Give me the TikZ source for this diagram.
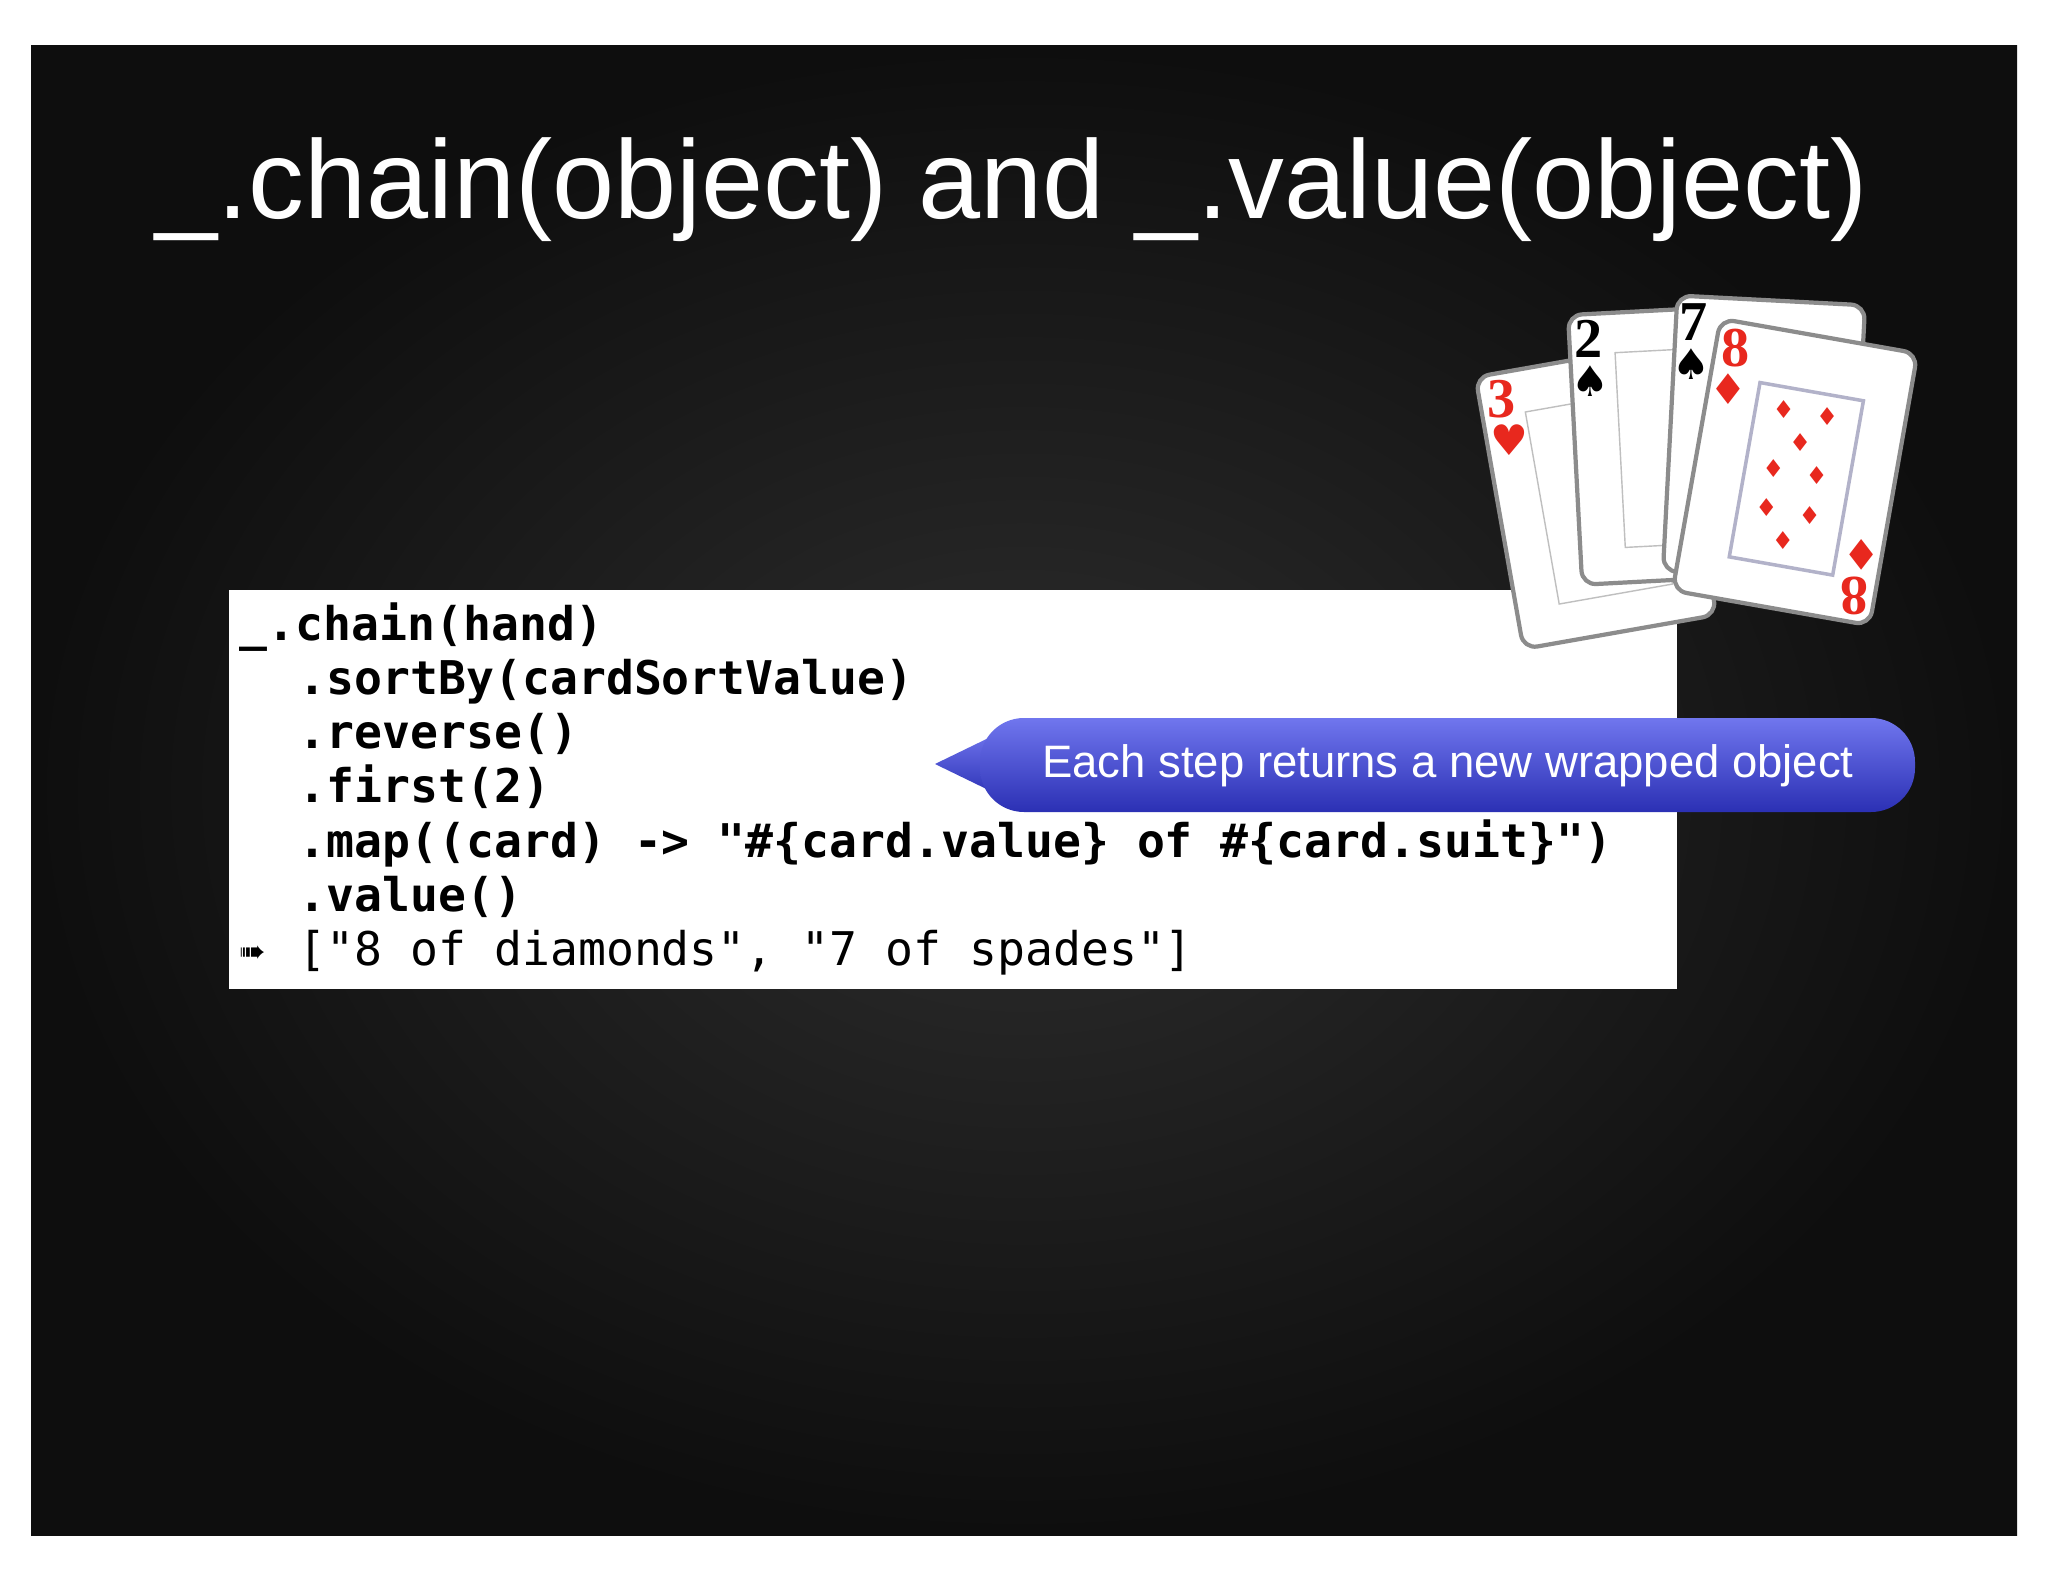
\documentclass[tikz,border=0pt]{standalone}
\usepackage{fontspec}
\setmainfont{Liberation Sans}
\newfontfamily\codefont{DejaVu Sans Mono}
\newfontfamily\symfont{DejaVu Sans}
\usetikzlibrary{shapes.geometric}
\definecolor{bgin}{HTML}{2E2E2E}
\definecolor{bgout}{HTML}{0E0E0E}
\definecolor{cbtop}{HTML}{7076EE}
\definecolor{cbbot}{HTML}{2B30B4}
\definecolor{cardred}{HTML}{E8281E}
\tikzset{
  codeline/.style={anchor=base west,inner sep=0pt,font=\codefont\bfseries\fontsize{13.2}{15}\selectfont},
  card/.style={fill=white,draw=black!45,line width=1.2pt,rounded corners=4pt},
  rank/.style={font=\fontspec{Liberation Serif}\bfseries\fontsize{16}{16}\selectfont,inner sep=0pt},
  suit/.style={font=\symfont\fontsize{12}{12}\selectfont,inner sep=0pt}
}
\begin{document}
\begin{tikzpicture}[x=0.01cm,y=-0.01cm]
\useasboundingbox (0,0) rectangle (2048,1582);
\fill[white] (0,0) rectangle (2048,1582);
\shade[inner color=bgin,outer color=bgout] (31,46) rectangle (2017,1535);
% title
\node[text=white,inner sep=0pt,anchor=center] (title) at (1012,190) {\resizebox{17.11cm}{!}{\_.chain(object) and \_.value(object)}};
% code box
\fill[white] (229,590) rectangle (1677,989);
\node[codeline] (l1) at (239,640) {\_.chain(hand)};
\node[codeline] (l2) at (298,694) {.sortBy(cardSortValue)};
\node[codeline] (l3) at (298,748) {.reverse()};
\node[codeline] (l4) at (298,802) {.first(2)};
\node[codeline] (l5) at (298,857) {.map((card) -> "\#\{card.value\} of \#\{card.suit\}")};
\node[codeline] (l6) at (298,911) {.value()};
\node[codeline,font=\codefont\fontsize{13.2}{15}\selectfont] (l7) at (298,965) {["8 of diamonds", "7 of spades"]};
\node[anchor=base west,inner sep=0pt,font=\symfont\fontsize{9}{9}\selectfont] (arr) at (239,962) {➠};
% cards
\begin{scope}[shift={(1596,496)},rotate=10]
 \draw[card] (-98,-138) rectangle (98,138);
 \draw[black!25] (-55,-95) rectangle (60,100);
 \node[rank,text=cardred] at (-76,-112) {3};
 \node[suit,text=cardred] at (-76,-70) {♥};
\end{scope}
\begin{scope}[shift={(1650,446)},rotate=3]
 \draw[card] (-75,-135) rectangle (98,135);
 \draw[black!25] (-30,-95) rectangle (70,100);
 \node[rank] (r2) at (-56,-110) {2};
 \node[suit] at (-56,-68) {♠};
\end{scope}
\begin{scope}[shift={(1760,438)},rotate=-3]
 \draw[card] (-90,-138) rectangle (98,138);
 \draw[black!25] (-40,-95) rectangle (70,100);
 \node[rank] at (-72,-112) {7};
 \node[suit] at (-72,-70) {♠};
\end{scope}
\begin{scope}[shift={(1795,472)},rotate=-10]
 \draw[card] (-100,-138) rectangle (100,138);
 \draw[draw=blue!30!black!30,line width=1pt] (-50,-82) rectangle (55,95);
 \node[rank,text=cardred] at (-80,-112) {8};
 \node[suit,text=cardred] at (-80,-70) {♦};
 \node[rank,text=cardred,rotate=180] at (80,112) {8};
 \node[suit,text=cardred,rotate=180] at (80,70) {♦};
 \foreach \px/\py in {-22/-60,22/-60,0/-30,-22/0,22/0,-22/40,22/40,0/70}
   \node[text=cardred,font=\symfont\fontsize{7}{7}\selectfont,inner sep=0pt] at (\px,\py) {♦};
\end{scope}
% callout
\path[top color=cbtop,bottom color=cbbot] (1005,730) -- (935,764) -- (1005,798) -- cycle;
\path[top color=cbtop,bottom color=cbbot,rounded corners=12.5pt] (980,718) rectangle (1915,812);
\node[text=white,inner sep=0pt] (call) at (1448,766) {\resizebox{8.11cm}{!}{Each step returns a new wrapped object}};
\end{tikzpicture}
\end{document}
